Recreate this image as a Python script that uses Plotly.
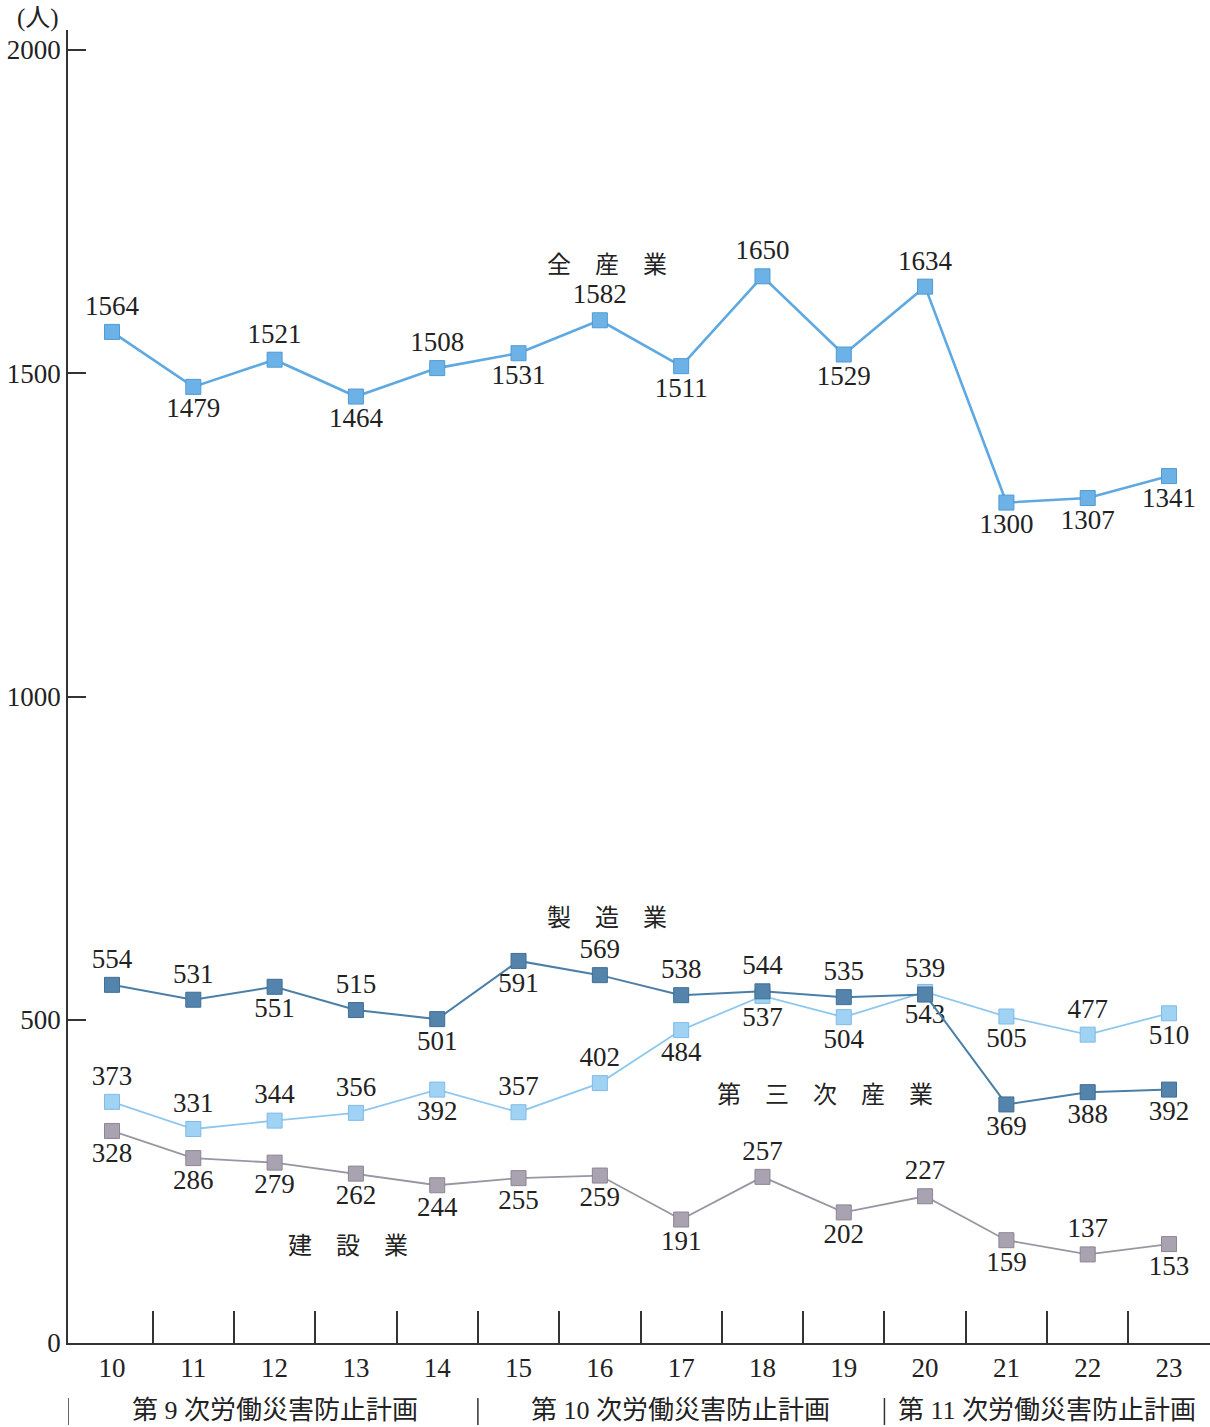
import plotly.graph_objects as go

years = [10, 11, 12, 13, 14, 15, 16, 17, 18, 19, 20, 21, 22, 23]
year_labels = [str(y) for y in years]

all_industry = [1564, 1479, 1521, 1464, 1508, 1531, 1582, 1511, 1650, 1529, 1634, 1300, 1307, 1341]
manufacturing = [554, 531, 551, 515, 501, 591, 569, 538, 544, 535, 539, 369, 388, 392]
tertiary = [373, 331, 344, 356, 392, 357, 402, 484, 537, 504, 543, 505, 477, 510]
construction = [328, 286, 279, 262, 244, 255, 259, 191, 257, 202, 227, 159, 137, 153]

all_pos = ["top center", "bottom center", "top center", "bottom center", "top center", "bottom center",
           "top center", "bottom center", "top center", "bottom center", "top center", "bottom center",
           "bottom center", "bottom center"]
man_pos = ["top center", "top center", "bottom center", "top center", "bottom center", "bottom center",
           "top center", "top center", "top center", "top center", "top center", "bottom center",
           "bottom center", "bottom center"]
ter_pos = ["top center", "top center", "top center", "top center", "bottom center", "top center",
           "top center", "bottom center", "bottom center", "bottom center", "bottom center", "bottom center",
           "top center", "bottom center"]
con_pos = ["bottom center"] * 8 + ["top center", "bottom center", "top center",
                                   "bottom center", "top center", "bottom center"]

series_names = ["全　産　業", "製　造　業", "第　三　次　産　業", "建　設　業"]
name_x = [16.09, 16.09, 18.77, 12.90]
name_y = [1667, 657, 384, 150]

plans = ["第 9 次労働災害防止計画", "第 10 次労働災害防止計画", "第 11 次労働災害防止計画"]
plan_centers = [12.0, 16.99, 21.5]
plan_bounds = [14.5, 19.5]

FONT = "Liberation Serif, Noto Sans CJK JP, serif"
TXT = "#222222"

fig = go.Figure()

def add_series(vals, pos, line_color, fill, border, lw):
    fig.add_trace(go.Scatter(
        x=years, y=vals, mode="lines+markers+text",
        text=[str(v) for v in vals], textposition=pos,
        textfont=dict(family=FONT, size=27, color=TXT),
        line=dict(color=line_color, width=lw),
        marker=dict(symbol="square", size=15, color=fill, line=dict(color=border, width=1)),
        hoverinfo="skip", showlegend=False, cliponaxis=False,
    ))

add_series(construction, con_pos, "#9a95a1", "#a9a3b1", "#8b8594", 1.8)
add_series(tertiary, ter_pos, "#8ec8ef", "#a0d2f4", "#7fbbe6", 1.8)
add_series(manufacturing, man_pos, "#4b7fa7", "#5483ab", "#3e6f96", 2.0)
add_series(all_industry, all_pos, "#5ea9e1", "#6db2e6", "#4f9ad4", 2.6)

annotations = []
for name, xv, yv in zip(series_names, name_x, name_y):
    annotations.append(dict(x=xv, y=yv, xref="x", yref="y", text=name, showarrow=False,
                            font=dict(family=FONT, size=24, color=TXT)))

for name, xc in zip(plans, plan_centers):
    annotations.append(dict(x=xc, y=-0.0515, xref="x", yref="paper", text=name, showarrow=False,
                            yanchor="middle", xanchor="center",
                            font=dict(family=FONT, size=26, color=TXT)))

annotations.append(dict(x=-0.026, y=1.0093, xref="paper", yref="paper", text="(人)", showarrow=False,
                        xanchor="center", yanchor="middle",
                        font=dict(family=FONT, size=25, color=TXT)))

shapes = []
for xb in [9.459] + plan_bounds:
    shapes.append(dict(type="line", xref="x", yref="paper", x0=xb, x1=xb, y0=-0.0419, y1=-0.0625,
                       line=dict(color="#333333", width=1.5)))

fig.update_layout(
    width=1210, height=1427,
    margin=dict(l=68, r=0, t=30, b=84),
    paper_bgcolor="white", plot_bgcolor="white",
    annotations=annotations, shapes=shapes,
    xaxis=dict(
        range=[9.459, 23.504], tickmode="array", tickvals=years, ticktext=year_labels,
        showgrid=False, zeroline=False, showline=True, linecolor="#333333", linewidth=1.5,
        ticks="", tickfont=dict(family=FONT, size=27, color=TXT), ticklabelstandoff=0,
        minor=dict(tickmode="array", tickvals=[y + 0.5 for y in years[:-1]], ticks="inside",
                   ticklen=32, tickcolor="#333333", tickwidth=1.5, showgrid=False),
    ),
    yaxis=dict(
        range=[0, 2031], tickmode="array", tickvals=[0, 500, 1000, 1500, 2000],
        showgrid=False, zeroline=False, showline=True, linecolor="#333333", linewidth=1.5,
        ticks="inside", ticklen=18, tickcolor="#333333", tickwidth=1.5,
        tickfont=dict(family=FONT, size=27, color=TXT),
    ),
)

fig.write_html("out.html")
